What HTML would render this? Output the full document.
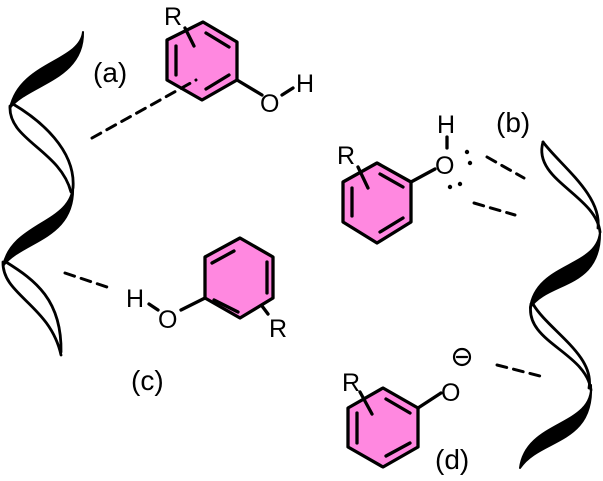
<!DOCTYPE html>
<html><head><style>
body{margin:0;background:#fff;}
svg text{font-family:"Liberation Sans",sans-serif;fill:#000;}
</style></head><body>
<svg width="603" height="476" viewBox="0 0 603 476" xmlns="http://www.w3.org/2000/svg">
<g stroke="#000" stroke-width="3" fill="none" stroke-linejoin="round" stroke-linecap="round">
<!-- left ribbon -->
<path d="M83,32 C80,62 20,62 10,108 C28,84 84,80 83,32 Z" fill="#000" stroke-width="2"/>
<path d="M10,106 C8,140 60,150 71,192" stroke-width="2.8"/>
<path d="M13,104 C40,120 76,150 73,188" stroke-width="2.8"/>
<path d="M73,185 C72,224 12,222 3,266 C22,240 76,240 73,185 Z" fill="#000" stroke-width="2"/>
<path d="M3,262 C2,295 50,305 61,355" stroke-width="2.8"/>
<path d="M6,262 C35,280 62,300 61,352" stroke-width="2.8"/>
<!-- right ribbon -->
<path d="M543,142 C532,180 596,195 600,232" stroke-width="2.8"/>
<path d="M543,142 C560,165 602,195 598,228" stroke-width="2.8"/>
<path d="M600,230 C600,268 536,262 530,308 C548,280 602,290 600,230 Z" fill="#000" stroke-width="2"/>
<path d="M531,304 C524,342 586,352 591,390" stroke-width="2.8"/>
<path d="M533,304 C548,330 595,355 589,388" stroke-width="2.8"/>
<path d="M591,385 C594,427 526,420 520,468 C540,438 594,445 591,385 Z" fill="#000" stroke-width="2"/>
<!-- ring a -->
<g stroke-width="3.3">
<polygon points="203,22 237,42 237,80 202,100 167,80 167,40" fill="#ff88e0"/>
<path d="M206,33 L229,47 M229,75 L206,89 M176,46 L176,75"/>
<path d="M185,28 L194,46"/>
<path d="M237,80 L262,95 M282,95 L293,88"/>
<!-- ring b -->
<polygon points="377,163 411,182 411,222 377,243 343,222 343,182" fill="#ff88e0"/>
<path d="M380,174 L403,187 M403,218 L380,232 M352,188 L352,216"/>
<path d="M358,167 L368,188"/>
<path d="M411,182 L435,169 M447,137 L447,148"/>
<!-- ring c -->
<polygon points="240,238 273,257 273,298 240,318 205,298 205,257" fill="#ff88e0"/>
<path d="M212,263 L234,251 M267,262 L267,293 M214,300 L238,312"/>
<path d="M205,298 L181,310 M149,304 L158,310"/>
<path d="M262,306 L268,314"/>
<!-- ring d -->
<polygon points="383,388 418,408 418,447 383,467 348,447 348,408" fill="#ff88e0"/>
<path d="M386,399 L410,413 M410,443 L386,456 M357,413 L357,443"/>
<path d="M360,392 L372,414"/>
<path d="M418,408 L441,393"/>
</g>
<path d="M92,138 L196,80" stroke-dasharray="10,7"/>
<path d="M487,157 L524,178 M474,203 L515,215" stroke-dasharray="10,7"/>
<path d="M65,273 L107,287" stroke-dasharray="10,7"/>
<path d="M497,365 L540,376" stroke-dasharray="10,7"/>
<circle cx="462" cy="357" r="8" stroke-width="2.2"/>
<path d="M457,357 L467,357" stroke-width="2.2"/>
</g>
<g fill="#000">
<circle cx="467" cy="152" r="2.2"/><circle cx="470" cy="163" r="2.2"/>
<circle cx="450" cy="187" r="2.2"/><circle cx="460" cy="184" r="2.2"/>
</g>
<g font-size="25">
<text x="164" y="25">R</text>
<text x="260" y="112">O</text>
<text x="296" y="92">H</text>
<text x="337" y="164">R</text>
<text x="435" y="174">O</text>
<text x="437" y="133">H</text>
<text x="126" y="307">H</text>
<text x="158" y="328">O</text>
<text x="269" y="337">R</text>
<text x="342" y="391">R</text>
<text x="441" y="401">O</text>
</g>
<g font-size="28">
<text x="93" y="82">(a)</text>
<text x="496" y="132">(b)</text>
<text x="131" y="390">(c)</text>
<text x="435" y="469">(d)</text>
</g>
</svg>
</body></html>
